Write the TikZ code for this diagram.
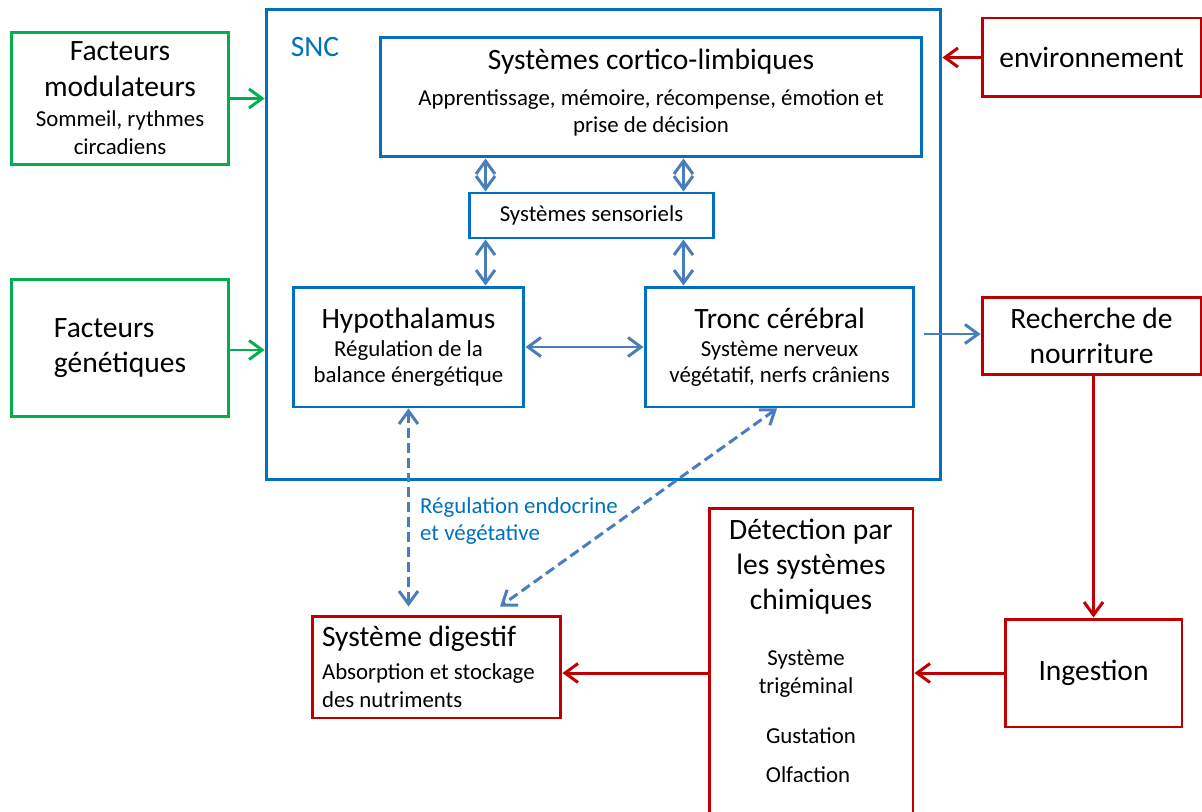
\documentclass[tikz,border=0pt]{standalone}
\usepackage{fontspec}
\setmainfont{Carlito}
\usepackage{xcolor}
\usepackage{tikz}
\usetikzlibrary{positioning,arrows.meta}

\definecolor{sncblue}{HTML}{0070C0}
\definecolor{linkblue}{HTML}{4A7EBB}
\definecolor{outred}{HTML}{C00000}
\definecolor{ingreen}{HTML}{00B050}
\newcommand{\bigtxt}{\fontsize{16.8}{20}\selectfont}
\newcommand{\smalltxt}{\fontsize{13}{15.8}\selectfont}

\begin{document}
\begin{tikzpicture}[x=0.02cm, y=-0.02cm,
    blue_box/.style={draw=sncblue, line width=1.7pt, fill=white, align=center, inner sep=0pt, font=\bigtxt},
    red_box/.style={draw=outred, line width=1.7pt, fill=white, align=center, inner sep=0pt, font=\bigtxt},
    green_box/.style={draw=ingreen, line width=1.7pt, fill=white, align=center, inner sep=0pt, font=\bigtxt},
    green_flow/.style={ingreen, line width=1.7pt, -{Straight Barb[length=0.26cm, width=0.38cm]}},
    red_flow/.style={outred, line width=1.7pt, -{Straight Barb[length=0.26cm, width=0.38cm]}},
    blue_flow/.style={linkblue, line width=1.7pt, -{Straight Barb[length=0.26cm, width=0.38cm]}},
    blue_both/.style={linkblue, line width=1.7pt, {Straight Barb[length=0.26cm, width=0.38cm]}-{Straight Barb[length=0.26cm, width=0.38cm]}},
    blue_dashed/.style={blue_both, dash pattern=on 0.2cm off 0.1cm}]

\useasboundingbox (0,0) rectangle (1202,811);

% SNC and its parts
\node[blue_box, minimum width=13.5cm, minimum height=9.42cm] (snc) at (603.5,244.5) {};
\node[font=\bigtxt, text=sncblue] (snc_label) at (315,47) {SNC};

\node[blue_box, minimum width=10.84cm, minimum height=2.4cm] (cortico_limbic) at (651,97)
    {Systèmes cortico-limbiques\\[0pt]{\smalltxt Apprentissage, mémoire, récompense, émotion et}\\[-4.5pt]{\smalltxt prise de décision\rule[-7pt]{0pt}{0pt}}};
\node[blue_box, minimum width=4.9cm, minimum height=0.9cm, font=\smalltxt] (sensory) at (591.5,215.5) {Systèmes sensoriels};
\node[blue_box, minimum width=4.62cm, minimum height=2.4cm] (hypothalamus) at (408.5,347)
    {Hypothalamus\\[-4pt]{\smalltxt Régulation de la}\\[-5pt]{\smalltxt balance énergétique}};
\node[blue_box, minimum width=5.38cm, minimum height=2.4cm] (brainstem) at (779.5,347)
    {Tronc cérébral\\[-4pt]{\smalltxt Système nerveux}\\[-5pt]{\smalltxt végétatif, nerfs crâniens}};

% outside factors
\node[green_box, minimum width=4.36cm, minimum height=2.66cm] (mod_factors) at (120,98.5)
    {Facteurs\\modulateurs\\[-2.5pt]{\smalltxt Sommeil, rythmes}\\[-4pt]{\smalltxt circadiens}};
\node[green_box, minimum width=4.36cm, minimum height=2.76cm, align=left] (gen_factors) at (120,348)
    {Facteurs\\génétiques};
\node[red_box, minimum width=4.38cm, minimum height=1.58cm] (environment) at (1091.5,57.5) {environnement};
\node[red_box, minimum width=4.38cm, minimum height=1.54cm] (food_search) at (1091.5,336) {Recherche de\\nourriture};
\node[red_box, minimum width=3.54cm, minimum height=2.16cm] (ingestion) at (1093.5,673) {Ingestion};

% chemical detection
\node[red_box, minimum width=4.08cm, minimum height=6.44cm] (detection) at (811,669) {};
\node[font=\bigtxt, align=center] (detection_title) at (811,567) {Détection par\\les systèmes\\chimiques};
\node[font=\smalltxt, align=center] (trigeminal) at (806,674) {Système\\trigéminal};
\node[font=\smalltxt] (gustation) at (811,736) {Gustation};
\node[font=\smalltxt] (olfaction) at (808,775) {Olfaction};

\node[red_box, text width=4.58cm, inner xsep=0.2cm, minimum height=2.04cm, align=flush left] (digestive) at (436.5,667)
    {Système digestif\\[-1pt]{\smalltxt Absorption et stockage}\\[-4pt]{\smalltxt des nutriments}};

\node[font=\smalltxt, text=sncblue, align=left, anchor=west] (regulation) at (414,521)
    {Régulation endocrine\\et végétative};

% connections
\draw[green_flow] (mod_factors.east) -- (mod_factors.east -| snc.west);
\draw[green_flow] ([yshift=-0.04cm]gen_factors.east) -- ([yshift=-0.04cm]gen_factors.east -| snc.west);
\draw[red_flow] (environment.west) -- (environment.west -| snc.east);

\draw[blue_both] ([xshift=0.36cm]sensory.north west) -- ([xshift=0.36cm]sensory.north west |- cortico_limbic.south);
\draw[blue_both] ([xshift=-0.64cm]sensory.north east) -- ([xshift=-0.64cm]sensory.north east |- cortico_limbic.south);
\draw[blue_both] ([xshift=0.36cm]sensory.south west) -- ([xshift=0.36cm]sensory.south west |- hypothalamus.north);
\draw[blue_both] ([xshift=-0.64cm]sensory.south east) -- ([xshift=-0.64cm]sensory.south east |- brainstem.north);
\draw[blue_both] (hypothalamus.east) -- (brainstem.west);
\draw[blue_flow] ([xshift=0.18cm, yshift=0.04cm]brainstem.east |- food_search.west) -- ([yshift=0.04cm]food_search.west);

\draw[red_flow] (ingestion.north |- food_search.south) -- (ingestion.north);
\draw[red_flow] (ingestion.west) -- (ingestion.west -| detection.east);
\draw[red_flow] (detection.west |- ingestion.west) -- (digestive.east |- ingestion.west);

\draw[blue_dashed] (hypothalamus.south) -- ([yshift=0.16cm]hypothalamus.south |- digestive.north);
\draw[blue_dashed] ([xshift=-0.05cm]brainstem.south) -- ([xshift=1.27cm, yshift=0.16cm]digestive.north);

\end{tikzpicture}
\end{document}
